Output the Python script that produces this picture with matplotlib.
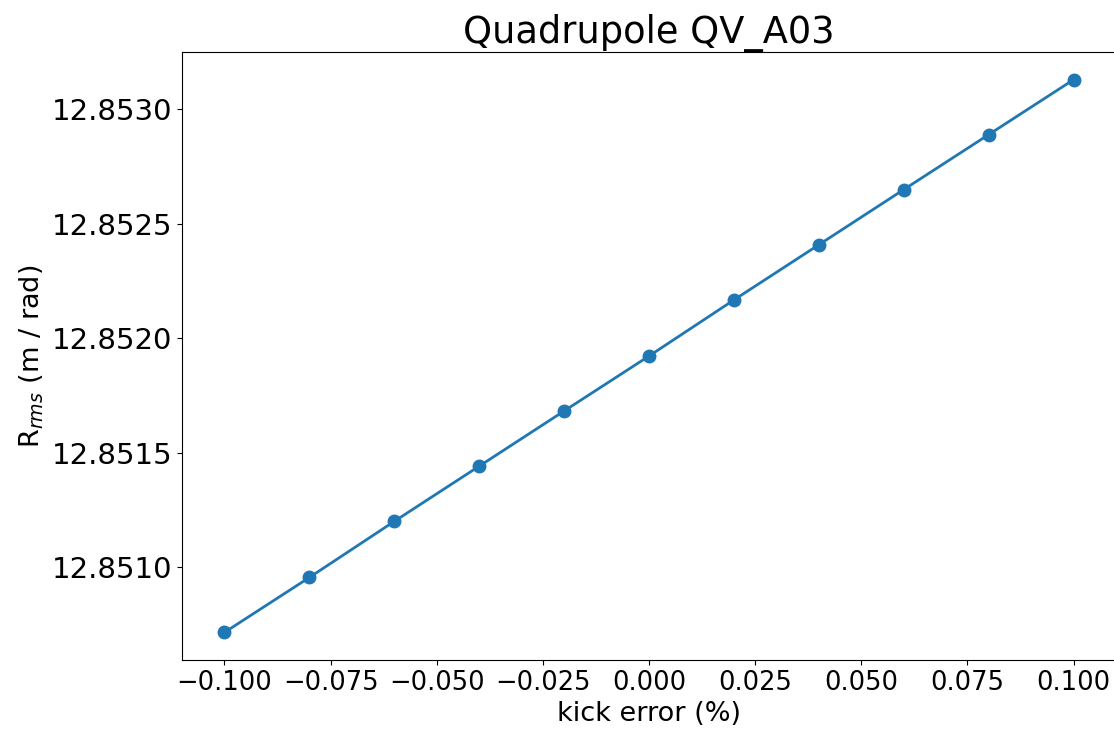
import matplotlib.pyplot as plt

kick_error = [-0.10, -0.08, -0.06, -0.04, -0.02, 0.00, 0.02, 0.04, 0.06, 0.08, 0.10]
r_rms = [12.850716, 12.850956, 12.851201, 12.851442, 12.851683, 12.851923,
         12.852168, 12.852409, 12.852650, 12.852890, 12.853130]

fig = plt.figure(figsize=(11.14, 7.31), dpi=100)
ax = fig.add_axes([0.1634, 0.0971, 0.8384, 0.8317])
ax.plot(kick_error, r_rms, marker='o', markersize=9, linewidth=2, color='#1f77b4')
ax.set_title('Quadrupole QV_A03', fontsize=26.5)
ax.set_xlabel('kick error (%)', fontsize=19.5)
ax.set_ylabel('R$_{rms}$ (m / rad)', fontsize=19.5)
ax.tick_params(axis='x', labelsize=18.5)
ax.tick_params(axis='y', labelsize=21)
ax.ticklabel_format(axis='y', useOffset=False)
ax.yaxis.set_major_formatter(plt.FormatStrFormatter('%.4f'))
fig.savefig('out.png')
